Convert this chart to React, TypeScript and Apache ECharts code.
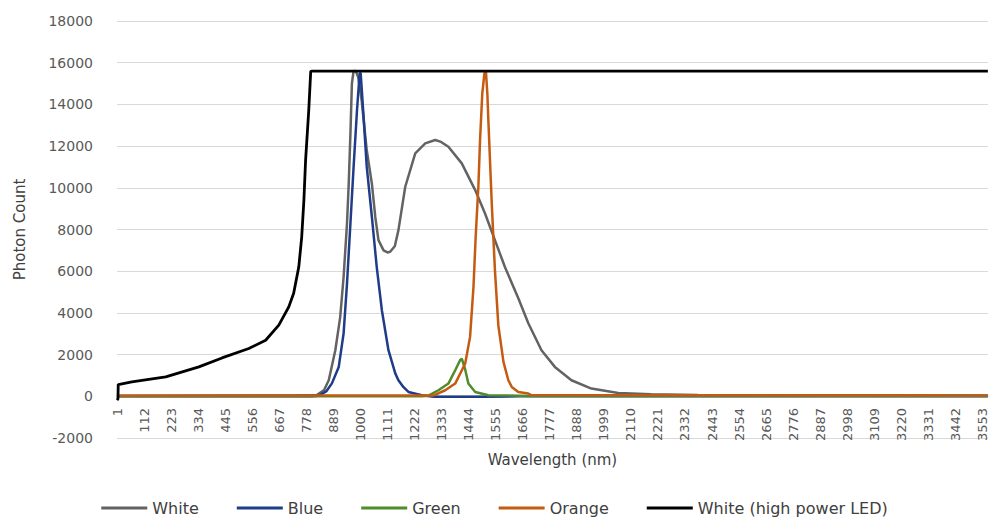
import React, { useEffect, useRef } from "react";
import * as echarts from "echarts";

const SAMPLE_COUNT = 3575;
const categories: string[] = Array.from({ length: SAMPLE_COUNT }, (_, i) => String(i + 1));

const seriesNames = ["White", "Blue", "Green", "Orange", "White (high power LED)"];
const seriesColors = ["#636363", "#1f3c88", "#4f8c2a", "#c55a11", "#000000"];

// [sample index (0-based), photon count]
const white: number[][] = [
  [0, 30], [700, 40], [820, 60], [850, 300], [869, 770], [896, 2210], [916, 3800], [930, 5730],
  [944, 8300], [951, 10200], [958, 12600], [964, 15000], [971, 15600], [980, 15600], [990, 15300],
  [1004, 14200], [1025, 11800], [1046, 10200], [1060, 8600], [1073, 7490], [1094, 7000], [1110, 6900],
  [1121, 6930], [1140, 7200], [1155, 7970], [1183, 10050], [1224, 11650], [1265, 12130], [1306, 12290],
  [1330, 12200], [1360, 11970], [1415, 11170], [1470, 9890], [1510, 8780], [1551, 7490], [1592, 6200],
  [1647, 4700], [1688, 3500], [1742, 2210], [1797, 1410], [1865, 770], [1947, 370], [2057, 160],
  [2192, 100], [2384, 60], [3574, 40],
];

const blue: number[][] = [
  [0, 0], [800, 0], [828, 30], [860, 250], [882, 620], [910, 1410], [930, 3020], [944, 5420],
  [958, 8300], [971, 11000], [985, 13730], [996, 15500], [1000, 15500], [1012, 13400], [1025, 11000],
  [1046, 8600], [1066, 6200], [1087, 4130], [1114, 2210], [1142, 1100], [1155, 770], [1175, 450],
  [1196, 210], [1251, 50], [1300, -20], [1500, -20], [1650, 0], [3574, 0],
];

const green: number[][] = [
  [0, 0], [1250, 0], [1278, 30], [1319, 290], [1360, 610], [1388, 1250], [1408, 1730], [1415, 1810],
  [1428, 1330], [1442, 610], [1470, 210], [1524, 50], [1700, 20], [3574, 10],
];

const orange: number[][] = [
  [0, 30], [1300, 40], [1347, 290], [1388, 610], [1429, 1570], [1449, 2850], [1463, 5250], [1472, 7650],
  [1483, 10050], [1490, 12290], [1499, 14500], [1508, 15500], [1514, 15600], [1520, 14500], [1524, 13250],
  [1538, 9250], [1551, 6050], [1565, 3400], [1586, 1650], [1606, 770], [1620, 450], [1647, 210],
  [1688, 130], [1700, 60], [3574, 40],
];

const whiteLed: number[][] = [
  [0, -180], [4, -120], [5, 560], [61, 690], [200, 930], [336, 1410], [431, 1840], [541, 2290],
  [610, 2690], [664, 3410], [705, 4290], [725, 4940], [746, 6200], [758, 7630], [767, 9400],
  [774, 11330], [787, 13730], [795, 15570], [798, 15600], [3574, 15600],
];

const seriesData = [white, blue, green, orange, whiteLed];

const FONT = "DejaVu Sans";

export default function App() {
  const ref = useRef<HTMLDivElement>(null);

  useEffect(() => {
    document.body.style.margin = "0";
    if (!ref.current) return;
    const chart = echarts.init(ref.current, null, { renderer: "svg" });
    chart.setOption({
      animation: false,
      backgroundColor: "#ffffff",
      textStyle: { fontFamily: FONT },
      grid: { left: 117, right: 0, top: 21, bottom: 81, containLabel: false },
      legend: {
        data: seriesNames,
        top: 495,
        left: "center",
        icon: "rect",
        itemWidth: 46,
        itemHeight: 3,
        itemGap: 38,
        textStyle: { fontSize: 16, color: "#404040", fontFamily: FONT },
      },
      xAxis: {
        type: "category",
        data: categories,
        boundaryGap: false,
        offset: -42,
        name: "Wavelength (nm)",
        nameLocation: "middle",
        nameGap: 56,
        nameTextStyle: { fontSize: 15, color: "#404040", fontFamily: FONT },
        axisLine: { onZero: false, lineStyle: { color: "#bfbfbf", width: 1.5 } },
        axisTick: { show: false },
        axisLabel: {
          interval: 110,
          rotate: 90,
          margin: 12,
          fontSize: 13,
          color: "#595959",
          fontFamily: FONT,
        },
        splitLine: { show: false },
      },
      yAxis: {
        type: "value",
        min: -2000,
        max: 18000,
        interval: 2000,
        name: "Photon Count",
        nameLocation: "middle",
        nameGap: 90,
        nameRotate: 90,
        nameTextStyle: { fontSize: 15, color: "#404040", fontFamily: FONT },
        axisLine: { show: false },
        axisTick: { show: false },
        axisLabel: {
          margin: 24,
          fontSize: 14,
          color: "#595959",
          fontFamily: FONT,
          formatter: (v: number) => String(v),
        },
        splitLine: { lineStyle: { color: "#d9d9d9", width: 1 } },
      },
      series: seriesNames.map((name, i) => ({
        name,
        type: "line",
        data: seriesData[i],
        showSymbol: false,
        symbol: "none",
        color: seriesColors[i],
        lineStyle: { color: seriesColors[i], width: i === 4 ? 2.8 : 2.5 },
        z: 2 + i,
      })),
    });
    return () => chart.dispose();
  }, []);

  return <div ref={ref} style={{ width: 989, height: 519 }} />;
}
